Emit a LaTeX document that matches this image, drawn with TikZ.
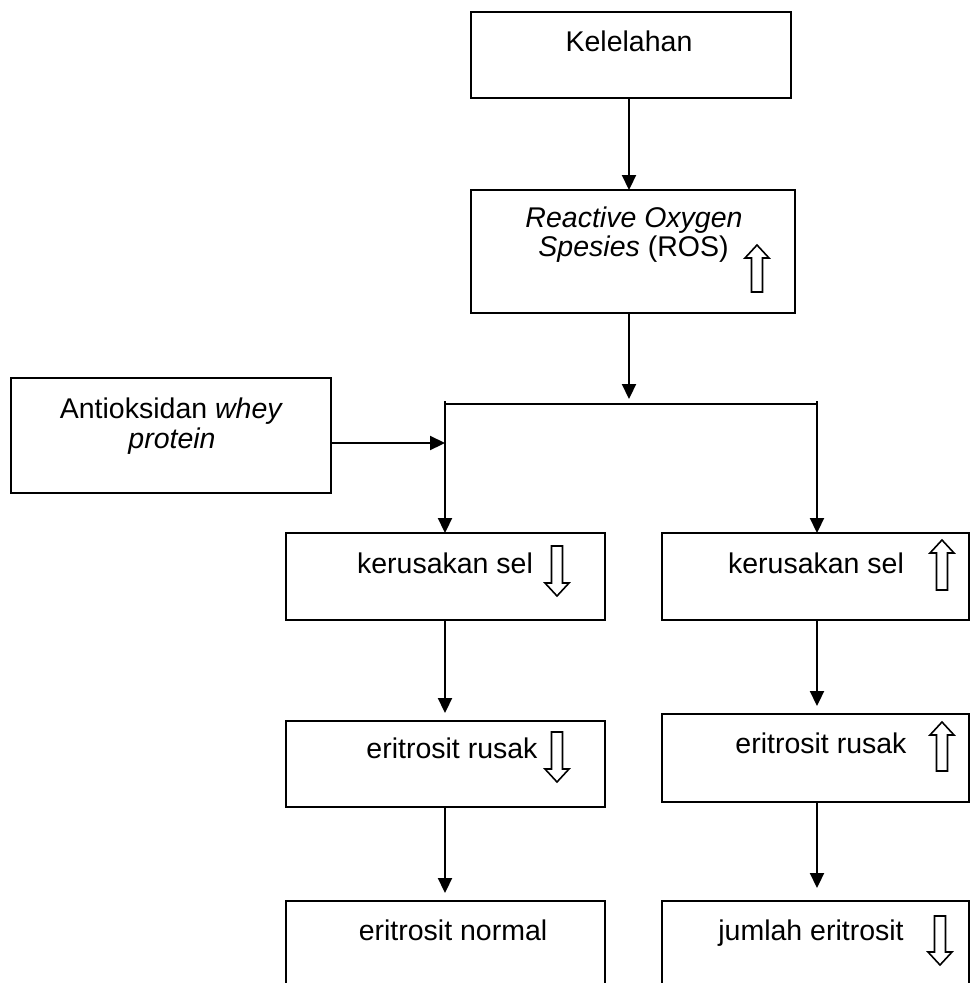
\documentclass[tikz,border=0pt]{standalone}
\usepackage{fontspec}
\setmainfont{Liberation Sans}
\usetikzlibrary{arrows.meta}
\tikzset{
  box/.style={draw, line width=2.6pt, inner sep=0pt, outer sep=0pt, rectangle},
  lbl/.style={anchor=base, inner sep=0pt, font=\fontsize{28.5}{30}\selectfont},
  arr/.style={line width=2.2pt, -{Triangle[length=15pt,width=14pt]}},
  conn/.style={line width=2.2pt},
  hollow/.style={draw, line width=1.6pt, fill=white, line join=miter}
}
\newcommand{\blkup}[3]{% x, top y, bottom y
  \draw[hollow] ({#1-5.5},#3) -- ({#1+5.5},#3) -- ({#1+5.5},{#2+13}) -- ({#1+12},{#2+13}) -- (#1,#2) -- ({#1-12},{#2+13}) -- ({#1-5.5},{#2+13}) -- cycle;}
\newcommand{\blkdown}[3]{% x, top y, bottom y
  \draw[hollow] ({#1-5.5},#2) -- ({#1+5.5},#2) -- ({#1+5.5},{#3-13}) -- ({#1+12},{#3-13}) -- (#1,#3) -- ({#1-12},{#3-13}) -- ({#1-5.5},{#3-13}) -- cycle;}
\begin{document}
\begin{tikzpicture}[x=1pt,y=-1pt]
\useasboundingbox (0,0) rectangle (970,983);
\clip (0,0) rectangle (970,983);
\fill[white] (0,0) rectangle (970,983);
% boxes
\node[box, minimum width=320pt, minimum height=86pt] (kel) at (631,55) {};
\node[box, minimum width=324pt, minimum height=123pt] (ros) at (633,251.5) {};
\node[box, minimum width=320pt, minimum height=115pt] (anti) at (171,435.5) {};
\node[box, minimum width=319pt, minimum height=87pt] (k1) at (445.5,576.5) {};
\node[box, minimum width=307pt, minimum height=87pt] (k2) at (815.5,576.5) {};
\node[box, minimum width=319pt, minimum height=86pt] (e1) at (445.5,764) {};
\node[box, minimum width=307pt, minimum height=88pt] (e2) at (815.5,758) {};
\node[box, minimum width=319pt, minimum height=119pt] (n1) at (445.5,960.5) {};
\node[box, minimum width=307pt, minimum height=119pt] (n2) at (815.5,960.5) {};
% texts
\node[lbl] (tkel) at (629,51) {Kelelahan};
\node[lbl] (tros1) at (634,227) {\itshape Reactive Oxygen};
\node[lbl] (tros2) at (633.5,256) {\textit{Spesies} (ROS)};
\node[lbl] (tanti1) at (171.5,418) {Antioksidan \textit{whey}};
\node[lbl] (tanti2) at (172,448) {\textit{protein}};
\node[lbl] (tk1) at (445,573) {kerusakan sel};
\node[lbl] (tk2) at (816,573) {kerusakan sel};
\node[lbl] (te1) at (452,758) {eritrosit rusak};
\node[lbl] (te2) at (821,753) {eritrosit rusak};
\node[lbl] (tn1) at (453,940) {eritrosit normal};
\node[lbl] (tn2) at (811,940) {jumlah eritrosit};
% hollow trend arrows
\blkup{757}{245}{292}
\blkdown{557}{546}{596}
\blkup{942}{540}{590}
\blkdown{557}{732}{782}
\blkup{942}{722}{771}
\blkdown{940}{916}{965}
% branch bar
\coordinate (bl) at (445,404);
\coordinate (br) at (817,404);
\coordinate (bm) at (629,404);
\coordinate (bj) at (445,443);
\draw[conn] (445,401) -- (bl) -- (br) -- (817,401);
% connectors
\draw[arr] (kel.south -| tkel) -- (tkel |- ros.north);
\draw[arr, shorten >=5pt] (ros.south -| bm) -- (bm);
\draw[arr] (anti.east |- bj) -- (bj);
\draw[arr] (bl) -- (k1.north -| bl);
\draw[arr] (br) -- (k2.north -| br);
\draw[arr, shorten >=8pt] (k1.south -| bl) -- (e1.north -| bl);
\draw[arr, shorten >=8pt] (k2.south -| br) -- (e2.north -| br);
\draw[arr, shorten >=8pt] (e1.south -| bl) -- (n1.north -| bl);
\draw[arr, shorten >=13pt] (e2.south -| br) -- (n2.north -| br);
\end{tikzpicture}
\end{document}
